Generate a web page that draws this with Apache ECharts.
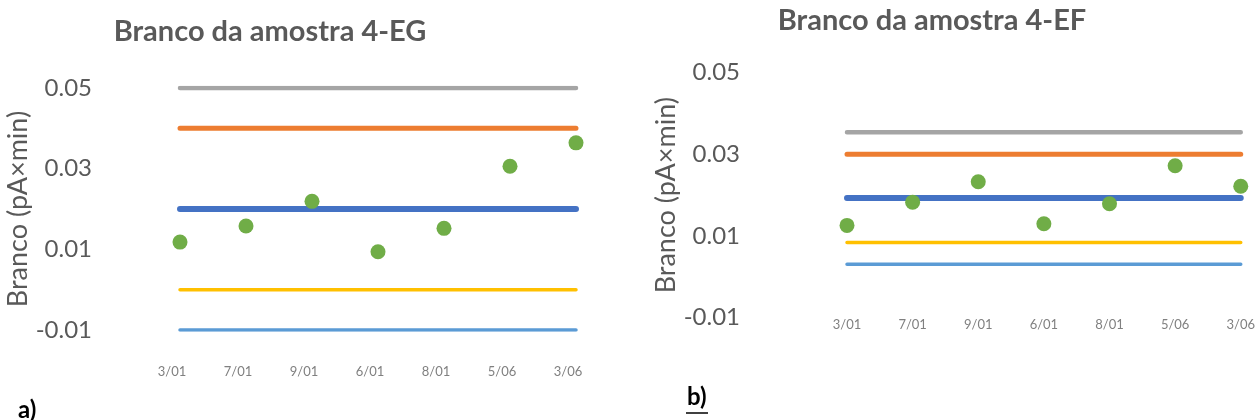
<!DOCTYPE html>
<html>
<head>
<meta charset="utf-8">
<script src="https://cdn.jsdelivr.net/npm/echarts@6/dist/echarts.min.js"></script>
<style>
html,body{margin:0;padding:0;background:#fff;}
#chart{width:1258px;height:420px;}
</style>
</head>
<body>
<div id="chart"></div>
<script>
// ---- data ----
const categories = ['3/01', '7/01', '9/01', '6/01', '8/01', '5/06', '3/06'];
const yTicks = [-0.01, 0.01, 0.03, 0.05];

// chart a) 4-EG
const pointsEG = [0.0118, 0.0158, 0.0219, 0.0094, 0.0152, 0.0306, 0.0364];
const limitsEG = [0.05, 0.04, 0.02, 0.0, -0.01]; // gray, orange, blue, yellow, light blue

// chart b) 4-EF
const pointsEF = [0.0126, 0.0183, 0.0233, 0.0130, 0.0179, 0.0272, 0.0222];
const limitsEF = [0.0354, 0.0300, 0.0193, 0.0084, 0.0031];

const limitColors = ['#A5A5A5', '#ED7D31', '#4472C4', '#FFC000', '#5B9BD5'];
const limitWidths = [4.5, 5, 6, 3.5, 3.5];
const pointColor = '#70AD47';
const font = 'Lato, "Open Sans", sans-serif';

function limitSeries(limits, idx) {
  return limits.map((v, i) => ({
    type: 'line',
    xAxisIndex: idx, yAxisIndex: idx,
    data: categories.map(() => v),
    symbol: 'none',
    silent: true,
    lineStyle: { color: limitColors[i], width: limitWidths[i], cap: 'round' },
    z: 2
  }));
}

function yAxisCfg(gridIdx, nameGap, labelMargin) {
  return {
    type: 'value', gridIndex: gridIdx,
    min: -0.01, max: 0.05,
    name: 'Branco (pA×min)',
    nameLocation: 'middle', nameRotate: 90, nameGap: nameGap,
    nameTextStyle: { color: '#595959', fontSize: 27, fontFamily: font },
    axisLine: { show: false }, axisTick: { show: false },
    splitLine: { show: false },
    axisLabel: {
      customValues: yTicks,
      color: '#595959', fontSize: 24, fontFamily: font, margin: labelMargin,
      formatter: v => String(Number(v.toFixed(2)))
    }
  };
}

function xAxisCfg(gridIdx, margin, padding) {
  return {
    type: 'category', gridIndex: gridIdx, data: categories, boundaryGap: false,
    axisLine: { show: false }, axisTick: { show: false }, splitLine: { show: false },
    axisLabel: { color: '#808080', fontSize: 13, fontFamily: font, margin: margin, padding: padding, interval: 0 }
  };
}

const chart = echarts.init(document.getElementById('chart'), null, { renderer: 'canvas' });
chart.setOption({
  animation: false,
  backgroundColor: '#fff',
  title: [
    { text: 'Branco da amostra 4-EG', left: 265, top: 12, textAlign: 'center',
      textStyle: { color: '#595959', fontSize: 29, fontWeight: 'bold', fontFamily: font } },
    { text: 'Branco da amostra 4-EF', left: 927, top: 1, textAlign: 'center',
      textStyle: { color: '#595959', fontSize: 29, fontWeight: 'bold', fontFamily: font } }
  ],
  grid: [
    { left: 180, top: 88, width: 396, height: 242, containLabel: false },
    { left: 847, top: 72.7, width: 396, height: 245, containLabel: false }
  ],
  xAxis: [xAxisCfg(0, 35, [0, 16, 0, 0]), xAxisCfg(1, 1, 0)],
  yAxis: [yAxisCfg(0, 147, 88), yAxisCfg(1, 163, 107)],
  graphic: [
    { type: 'text', left: 18, top: 398, style: { text: 'a)', fontSize: 24, fontWeight: 'bold', fontFamily: font, fill: '#000' } },
    { type: 'text', left: 687, top: 385, style: { text: 'b)', fontSize: 24, fontWeight: 'bold', fontFamily: font, fill: '#000' } },
    { type: 'line', shape: { x1: 686, y1: 413, x2: 708, y2: 413 }, style: { stroke: '#000', lineWidth: 1.5 } }
  ],
  series: [
    ...limitSeries(limitsEG, 0),
    { type: 'scatter', xAxisIndex: 0, yAxisIndex: 0, data: pointsEG, symbolSize: 15,
      itemStyle: { color: pointColor, opacity: 1 }, z: 5 },
    ...limitSeries(limitsEF, 1),
    { type: 'scatter', xAxisIndex: 1, yAxisIndex: 1, data: pointsEF, symbolSize: 15,
      itemStyle: { color: pointColor, opacity: 1 }, z: 5 }
  ]
});
</script>
</body>
</html>
